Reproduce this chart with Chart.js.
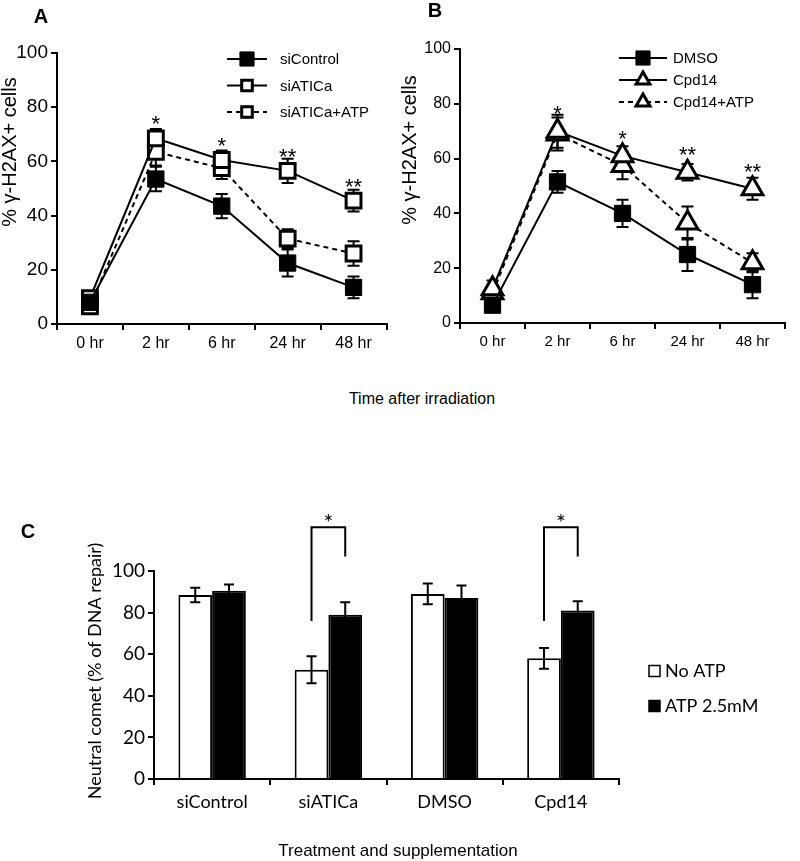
<!DOCTYPE html>
<html>
<head>
<meta charset="utf-8">
<script src="https://cdn.jsdelivr.net/npm/chart.js@4.4.0/dist/chart.umd.min.js"></script>
<style>
  body { margin: 0; background: #fff; width: 800px; height: 861px; position: relative; overflow: hidden; }
  .panel { position: absolute; }
  .txt { position: absolute; transform: translate(-50%, -50%); line-height: 1; white-space: nowrap; color: #000; }
  .letter { font: bold 20px "Liberation Sans", Arial, sans-serif; }
</style>
</head>
<body>
<div class="panel" style="left:0;top:0;width:400px;height:360px"><canvas id="chartA"></canvas></div>
<div class="panel" style="left:400px;top:0;width:400px;height:360px"><canvas id="chartB"></canvas></div>
<div class="panel" style="left:0;top:470px;width:800px;height:391px"><canvas id="chartC"></canvas></div>

<div class="txt letter" style="left:41px;top:16px">A</div>
<div class="txt letter" style="left:435px;top:10px">B</div>
<div class="txt letter" style="left:28px;top:531px">C</div>
<div class="txt" style="left:422px;top:399px;font:16px 'Liberation Sans',Arial,sans-serif">Time after irradiation</div>
<div class="txt" style="left:398px;top:851px;font:17px 'Liberation Sans',Arial,sans-serif">Treatment and supplementation</div>

<script>
// panel A / B: % γ-H2AX+ cells over time
const timeLabels = ["0 hr", "2 hr", "6 hr", "24 hr", "48 hr"];

const siControl = [8, 53.5, 43.5, 22.5, 13.5];
const siControlErr = [2, 4.5, 4.5, 5, 4];
const siATICa = [9.5, 68.5, 60.5, 56.5, 45.5];
const siATICaErr = [2, 3.5, 3.5, 4.5, 4];
const siATICaATP = [6.5, 63.5, 57.5, 31.5, 26];
const siATICaATPErr = [2, 5, 4, 3.5, 4.5];
const starsA = ["", "*", "*", "**", "**"];

const dmso = [6.5, 51.5, 40, 25, 14];
const dmsoErr = [1, 4, 5, 6, 5];
const cpd14 = [12.5, 70, 61, 55, 49];
const cpd14Err = [3, 6, 3.5, 3, 4];
const cpd14ATP = [11, 69, 57.5, 36.5, 22];
const cpd14ATPErr = [3, 6, 5, 6, 3.5];
const starsB = ["", "*", "*", "**", "**"];

// panel C: neutral comet
const treatments = ["siControl", "siATICa", "DMSO", "Cpd14"];
const noATP = [88.5, 52.5, 89, 58];
const noATPErr = [3.5, 6.5, 5, 5];
const withATP = [90.5, 79, 87, 81];
const withATPErr = [3, 6, 6, 4.5];
const significance = ["", "*", "", "*"];

function marker(ctx, style, x, y, r, fill, bw) {
  ctx.beginPath();
  if (style === "triangle") {
    ctx.moveTo(x, y - r);
    ctx.lineTo(x + r * 0.866, y + r * 0.5);
    ctx.lineTo(x - r * 0.866, y + r * 0.5);
    ctx.closePath();
  } else {
    const s = r * Math.SQRT1_2;
    ctx.rect(x - s, y - s, 2 * s, 2 * s);
  }
  ctx.fillStyle = fill;
  ctx.fill();
  ctx.setLineDash([]);
  ctx.lineWidth = bw;
  ctx.strokeStyle = "#000";
  ctx.stroke();
}

function drawErrors(chart, opts) {
  const ctx = chart.ctx;
  const ys = chart.scales.y;
  ctx.save();
  ctx.strokeStyle = "#000";
  ctx.lineWidth = 2;
  ctx.setLineDash([]);
  chart.data.datasets.forEach((ds, di) => {
    if (!ds.errors) return;
    chart.getDatasetMeta(di).data.forEach((el, i) => {
      const v = ds.data[i], e = ds.errors[i];
      const top = ys.getPixelForValue(v + e);
      const bot = ys.getPixelForValue(v - e);
      ctx.beginPath();
      ctx.moveTo(el.x, top); ctx.lineTo(el.x, bot);
      ctx.moveTo(el.x - opts.cap, top); ctx.lineTo(el.x + opts.cap, top);
      ctx.moveTo(el.x - opts.cap, bot); ctx.lineTo(el.x + opts.cap, bot);
      ctx.stroke();
    });
  });
  ctx.restore();
}

function drawYTitle(ctx, t) {
  ctx.save();
  ctx.translate(t.x, t.y);
  ctx.rotate(-Math.PI / 2);
  ctx.font = t.font;
  ctx.fillStyle = "#000";
  ctx.textAlign = "center";
  ctx.textBaseline = "middle";
  ctx.fillText(t.text, 0, 0);
  ctx.restore();
}

const lineMarks = {
  id: "lineMarks",
  beforeDatasetsDraw(chart, args, opts) {
    drawErrors(chart, opts);
  },
  afterDatasetsDraw(chart, args, opts) {
    const ctx = chart.ctx;
    const ys = chart.scales.y;
    const dsets = chart.data.datasets;
    ctx.save();
    ctx.fillStyle = "#000";
    ctx.font = opts.starFont;
    ctx.textAlign = "center";
    ctx.textBaseline = "alphabetic";
    // stars sit a fixed distance above the highest mean
    opts.stars.forEach((s, i) => {
      if (!s) return;
      let top = Infinity;
      dsets.forEach(ds => { top = Math.min(top, ys.getPixelForValue(ds.data[i])); });
      const x = chart.getDatasetMeta(0).data[i].x;
      ctx.fillText(s, x, top + opts.starShift);
    });
    // legend
    const lg = opts.legend;
    dsets.forEach((ds, k) => {
      const y = lg.y + k * lg.gap;
      ctx.beginPath();
      ctx.setLineDash(ds.borderDash || []);
      ctx.lineWidth = 2;
      ctx.strokeStyle = "#000";
      ctx.moveTo(lg.x, y);
      ctx.lineTo(lg.x + lg.len, y);
      ctx.stroke();
      const r = ds.pointBorderWidth > 1 ? lg.rOpen : lg.r;
      marker(ctx, ds.pointStyle, lg.x + lg.len / 2, y, r, ds.pointBackgroundColor, ds.pointBorderWidth);
      ctx.fillStyle = "#000";
      ctx.font = lg.font;
      ctx.textAlign = "left";
      ctx.textBaseline = "middle";
      ctx.fillText(ds.label, lg.textX, y + 1);
    });
    drawYTitle(ctx, opts.yTitle);
    ctx.restore();
  }
};

function series(label, data, errors, style, filled, dashed, r) {
  return {
    label, data, errors,
    borderColor: "#000", borderWidth: 2, borderDash: dashed ? [5, 4] : [],
    pointStyle: style, pointRadius: r, pointHoverRadius: r,
    pointBackgroundColor: filled ? "#000" : "#fff",
    pointBorderColor: "#000", pointBorderWidth: filled ? 1 : 3,
    tension: 0, fill: false
  };
}

function linePanel(id, datasets, cfg) {
  const font = { family: "Liberation Sans", size: cfg.tick };
  new Chart(document.getElementById(id), {
    type: "line",
    data: { labels: timeLabels, datasets },
    options: {
      responsive: true, maintainAspectRatio: false, animation: false,
      layout: { padding: cfg.padding },
      plugins: {
        legend: { display: false }, tooltip: { enabled: false },
        lineMarks: cfg.marks
      },
      scales: {
        x: {
          offset: true,
          grid: { offset: true, drawOnChartArea: false, color: "#000", lineWidth: 2, tickLength: 6 },
          border: { color: "#000", width: 2 },
          ticks: { color: "#000", font: { family: "Liberation Sans", size: cfg.xtick }, padding: 4, maxRotation: 0 },
          afterFit: s => { s.height = cfg.xh; }
        },
        y: {
          min: 0, max: 100,
          grid: { drawOnChartArea: false, color: "#000", lineWidth: 2, tickLength: 6 },
          border: { color: "#000", width: 2 },
          ticks: { stepSize: 20, color: "#000", font, padding: 3 },
          afterFit: s => { s.width = cfg.yw; }
        }
      }
    },
    plugins: [lineMarks]
  });
}

linePanel("chartA", [
  series("siControl", siControl, siControlErr, "rect", true, false, 11.5),
  series("siATICa", siATICa, siATICaErr, "rect", false, false, 10.5),
  series("siATICa+ATP", siATICaATP, siATICaATPErr, "rect", false, true, 10.5)
], {
  padding: { top: 53, right: 12, left: 0, bottom: 0 }, yw: 57, xh: 36, tick: 19, xtick: 16,
  marks: {
    cap: 6, stars: starsA, starFont: "22px 'Liberation Sans'", starShift: -7,
    legend: { x: 227, y: 59, gap: 26.5, len: 40, r: 10, rOpen: 7.5, textX: 280, font: "15px 'Liberation Sans'" },
    yTitle: { text: "% γ-H2AX+ cells", x: 10, y: 152, font: "20px 'Liberation Sans'" }
  }
});

linePanel("chartB", [
  series("DMSO", dmso, dmsoErr, "rect", true, false, 11.5),
  series("Cpd14", cpd14, cpd14Err, "triangle", false, false, 12),
  series("Cpd14+ATP", cpd14ATP, cpd14ATPErr, "triangle", false, true, 12)
], {
  padding: { top: 49, right: 6, left: 0, bottom: 0 }, yw: 60, xh: 37, tick: 16, xtick: 15,
  marks: {
    cap: 6, stars: starsB, starFont: "22px 'Liberation Sans'", starShift: -10,
    legend: { x: 219, y: 58, gap: 22, len: 48, r: 10, rOpen: 8, textX: 273, font: "15px 'Liberation Sans'" },
    yTitle: { text: "% γ-H2AX+ cells", x: 10, y: 150, font: "20px 'Liberation Sans'" }
  }
});

const barMarks = {
  id: "barMarks",
  afterDatasetsDraw(chart, args, opts) {
    drawErrors(chart, opts);
    const ctx = chart.ctx;
    const ys = chart.scales.y;
    const m0 = chart.getDatasetMeta(0), m1 = chart.getDatasetMeta(1);
    ctx.save();
    ctx.strokeStyle = "#000";
    ctx.lineWidth = 2;
    ctx.fillStyle = "#000";
    ctx.font = "23px Lato";
    ctx.textAlign = "center";
    opts.marks.forEach((s, i) => {
      if (!s) return;
      const xl = m0.data[i].x, xr = m1.data[i].x;
      const top = ys.getPixelForValue(opts.top);
      ctx.beginPath();
      ctx.moveTo(xl, ys.getPixelForValue(opts.legLow));
      ctx.lineTo(xl, top);
      ctx.lineTo(xr, top);
      ctx.lineTo(xr, ys.getPixelForValue(opts.legHigh));
      ctx.stroke();
      ctx.fillText(s, (xl + xr) / 2, top + 4);
    });
    // legend
    const lg = opts.legend;
    ctx.font = "18px Lato";
    chart.data.datasets.forEach((ds, k) => {
      const y = lg.y + k * lg.gap;
      ctx.fillStyle = ds.backgroundColor;
      ctx.fillRect(lg.x, y - lg.size / 2, lg.size, lg.size);
      ctx.lineWidth = 1.5;
      ctx.strokeRect(lg.x, y - lg.size / 2, lg.size, lg.size);
      ctx.fillStyle = "#000";
      ctx.textAlign = "left";
      ctx.textBaseline = "middle";
      ctx.fillText(ds.label, lg.textX, y);
    });
    drawYTitle(ctx, opts.yTitle);
    ctx.restore();
  }
};

new Chart(document.getElementById("chartC"), {
  type: "bar",
  data: {
    labels: treatments,
    datasets: [
      { label: "No ATP", data: noATP, errors: noATPErr, backgroundColor: "#fff", borderColor: "#000", borderWidth: 2, categoryPercentage: 0.58, barPercentage: 1 },
      { label: "ATP 2.5mM", data: withATP, errors: withATPErr, backgroundColor: "#000", borderColor: "#000", borderWidth: 2, categoryPercentage: 0.58, barPercentage: 1 }
    ]
  },
  options: {
    responsive: true, maintainAspectRatio: false, animation: false,
    layout: { padding: { top: 101, right: 181, left: 0, bottom: 0 } },
    plugins: {
      legend: { display: false }, tooltip: { enabled: false },
      barMarks: {
        cap: 5, marks: significance, legLow: 76, legHigh: 107, top: 121,
        legend: { x: 649, y: 201, gap: 35, size: 11, textX: 665 },
        yTitle: { text: "Neutral comet (% of DNA repair)", x: 95, y: 201, font: "18px Lato" }
      }
    },
    scales: {
      x: {
        grid: { drawOnChartArea: false, color: "#000", lineWidth: 2, tickLength: 6 },
        border: { color: "#000", width: 2 },
        ticks: { color: "#000", font: { family: "Lato", size: 18 }, padding: 6, maxRotation: 0 },
        afterFit: s => { s.height = 82; }
      },
      y: {
        min: 0, max: 100,
        grid: { drawOnChartArea: false, color: "#000", lineWidth: 2, tickLength: 6 },
        border: { color: "#000", width: 2 },
        ticks: { stepSize: 20, color: "#000", font: { family: "Lato", size: 19 }, padding: 3 },
        afterFit: s => { s.width = 154; }
      }
    }
  },
  plugins: [barMarks]
});
</script>
</body>
</html>
